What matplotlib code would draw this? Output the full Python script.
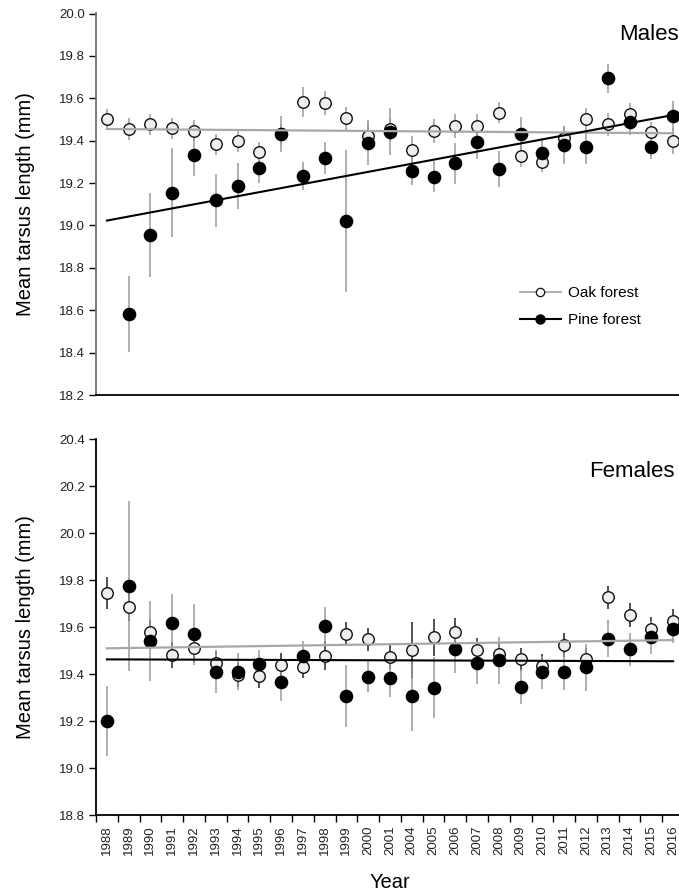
import matplotlib
matplotlib.use("Agg")
import matplotlib.pyplot as plt
from matplotlib.lines import Line2D
import numpy as np

plt.rcParams['font.family'] = ['Liberation Sans', 'DejaVu Sans']

years = [str(y) for y in list(range(1988, 2002)) + list(range(2004, 2017))]

# males
male_oak = [19.50, 19.455, 19.477, 19.458, 19.447, 19.383, 19.398, 19.345, 19.43, 19.581,
            19.578, 19.506, 19.422, 19.455, 19.356, 19.446, 19.469, 19.469, 19.532, 19.329,
            19.301, 19.411, 19.501, 19.477, 19.526, 19.440, 19.398]
male_oak_se = [0.05, 0.05, 0.05, 0.05, 0.05, 0.05, 0.05, 0.05, 0.05, 0.07,
               0.055, 0.055, 0.06, 0.05, 0.065, 0.055, 0.055, 0.055, 0.05, 0.055,
               0.05, 0.06, 0.055, 0.055, 0.05, 0.05, 0.06]
male_pine = [np.nan, 18.583, 18.955, 19.155, 19.331, 19.120, 19.186, 19.270, 19.430, 19.233,
             19.320, 19.021, 19.391, 19.442, 19.259, 19.230, 19.293, 19.395, 19.265, 19.432,
             19.343, 19.380, 19.372, 19.694, 19.488, 19.369, 19.516]
male_pine_se = [np.nan, 0.18, 0.2, 0.21, 0.1, 0.125, 0.107, 0.07, 0.085, 0.065,
                0.075, 0.335, 0.105, 0.11, 0.07, 0.073, 0.096, 0.08, 0.084, 0.08,
                0.07, 0.088, 0.08, 0.07, 0.06, 0.055, 0.07]
male_oak_trend = [19.455, 19.435]
male_pine_trend = [19.023, 19.521]

# females
female_oak = [19.744, 19.687, 19.581, 19.482, 19.510, 19.449, 19.397, 19.392, 19.439, 19.432,
              19.479, 19.570, 19.548, 19.472, 19.503, 19.556, 19.578, 19.503, 19.486, 19.463,
              19.435, 19.524, 19.463, 19.727, 19.652, 19.592, 19.626]
female_oak_se = [0.068, 0.06, 0.05, 0.055, 0.06, 0.05, 0.05, 0.05, 0.05, 0.05,
                 0.06, 0.05, 0.05, 0.05, 0.12, 0.08, 0.06, 0.05, 0.05, 0.05,
                 0.05, 0.05, 0.05, 0.05, 0.05, 0.05, 0.05]
female_pine = [19.201, 19.775, 19.54, 19.619, 19.570, 19.411, 19.411, 19.442, 19.368, 19.479,
               19.606, 19.307, 19.390, 19.383, 19.307, 19.343, 19.506, 19.449, 19.460, 19.347,
               19.408, 19.411, 19.429, 19.551, 19.506, 19.557, 19.591]
female_pine_se = [0.15, 0.36, 0.17, 0.12, 0.13, 0.09, 0.08, 0.06, 0.08, 0.06,
                  0.08, 0.13, 0.065, 0.08, 0.15, 0.13, 0.1, 0.09, 0.1, 0.075,
                  0.07, 0.08, 0.1, 0.08, 0.07, 0.07, 0.06]
female_oak_trend = [19.51, 19.545]
female_pine_trend = [19.463, 19.455]

x = np.arange(len(years))
oak_face = '#eeeeee'


def panel(ax, oak, oak_se, pine, pine_se, oak_tr, pine_tr, oak_bar_col, title):
    ax.errorbar(x, oak, yerr=oak_se, fmt='none', ecolor=oak_bar_col, elinewidth=1.1, zorder=1)
    ax.errorbar(x, pine, yerr=pine_se, fmt='none', ecolor='#9a9a9a', elinewidth=1.1, zorder=1)
    ax.plot(x, oak, 'o', ms=8.3, mfc=oak_face, mec='#111111', mew=1.0, zorder=3)
    ax.plot(x, pine, 'o', ms=8.8, mfc='black', mec='black', zorder=4)
    ax.plot([x[0], x[-1]], oak_tr, color='#a8a8a8', lw=1.6, zorder=5)
    ax.plot([x[0], x[-1]], pine_tr, color='black', lw=1.5, zorder=5)
    ax.set_xlim(-0.5, len(years) - 0.5)
    for s in ['top', 'right']:
        ax.spines[s].set_visible(False)
    ax.spines['bottom'].set_linewidth(1.3)
    ax.spines['left'].set_linewidth(1.3)
    ax.tick_params(axis='y', direction='out', length=5, width=1, labelsize=9.5, pad=3,
                   labelcolor='#222222')
    ax.set_ylabel('Mean tarsus length (mm)', fontsize=14.5)
    ax.yaxis.set_label_coords(-0.103, 0.5)
    ax.text(title[1], title[2], title[0], fontsize=16, ha='left', va='center', clip_on=False)


fig = plt.figure(figsize=(6.79, 8.93), dpi=100)
W, H = 679, 893
ax1 = fig.add_axes([96 / W, 1 - 395 / H, 588 / W, (395 - 13.5) / H])
ax2 = fig.add_axes([96 / W, 1 - 815.3 / H, 588 / W, (815.3 - 439) / H])

panel(ax1, male_oak, male_oak_se, male_pine, male_pine_se,
      male_oak_trend, male_pine_trend, '#9a9a9a', ('Males', 23.52, 19.90))
ax1.set_ylim(18.2, 20.0)
ax1.set_yticks(np.arange(18.2, 20.01, 0.2))
ax1.set_yticklabels(['%.1f' % v for v in np.arange(18.2, 20.01, 0.2)])
ax1.spines['left'].set_color('#707070')
ax1.set_xticks([])

handles = [
    Line2D([], [], color='#a8a8a8', lw=1.3, marker='o', ms=6, mfc='white', mec='#111111', mew=0.9),
    Line2D([], [], color='black', lw=1.5, marker='o', ms=6.5, mfc='black', mec='black'),
]
ax1.legend(handles, ['Oak forest', 'Pine forest'], loc='upper left',
           bbox_to_anchor=(0.71, 0.302), frameon=False, fontsize=11,
           handlelength=2.7, handletextpad=0.45, labelspacing=0.85, borderaxespad=0)

panel(ax2, female_oak, female_oak_se, female_pine, female_pine_se,
      female_oak_trend, female_pine_trend, '#222222', ('Females', 22.15, 20.261))
ax2.set_ylim(18.8, 20.4)
ax2.set_yticks(np.arange(18.8, 20.41, 0.2))
ax2.set_yticklabels(['%.1f' % v for v in np.arange(18.8, 20.41, 0.2)])
ax2.set_xticks(x)
ax2.set_xticklabels(years, rotation=90, fontsize=9.5, color='#222222')
ax2.set_xticks(np.arange(-0.5, len(years), 1.0), minor=True)
ax2.tick_params(axis='x', which='major', length=0, pad=7)
ax2.tick_params(axis='x', which='minor', length=5, width=1, direction='out')
ax2.set_xlabel('Year', fontsize=14.5)
ax2.xaxis.set_label_coords(0.5, -0.153)

fig.savefig('out.png', dpi=100)
